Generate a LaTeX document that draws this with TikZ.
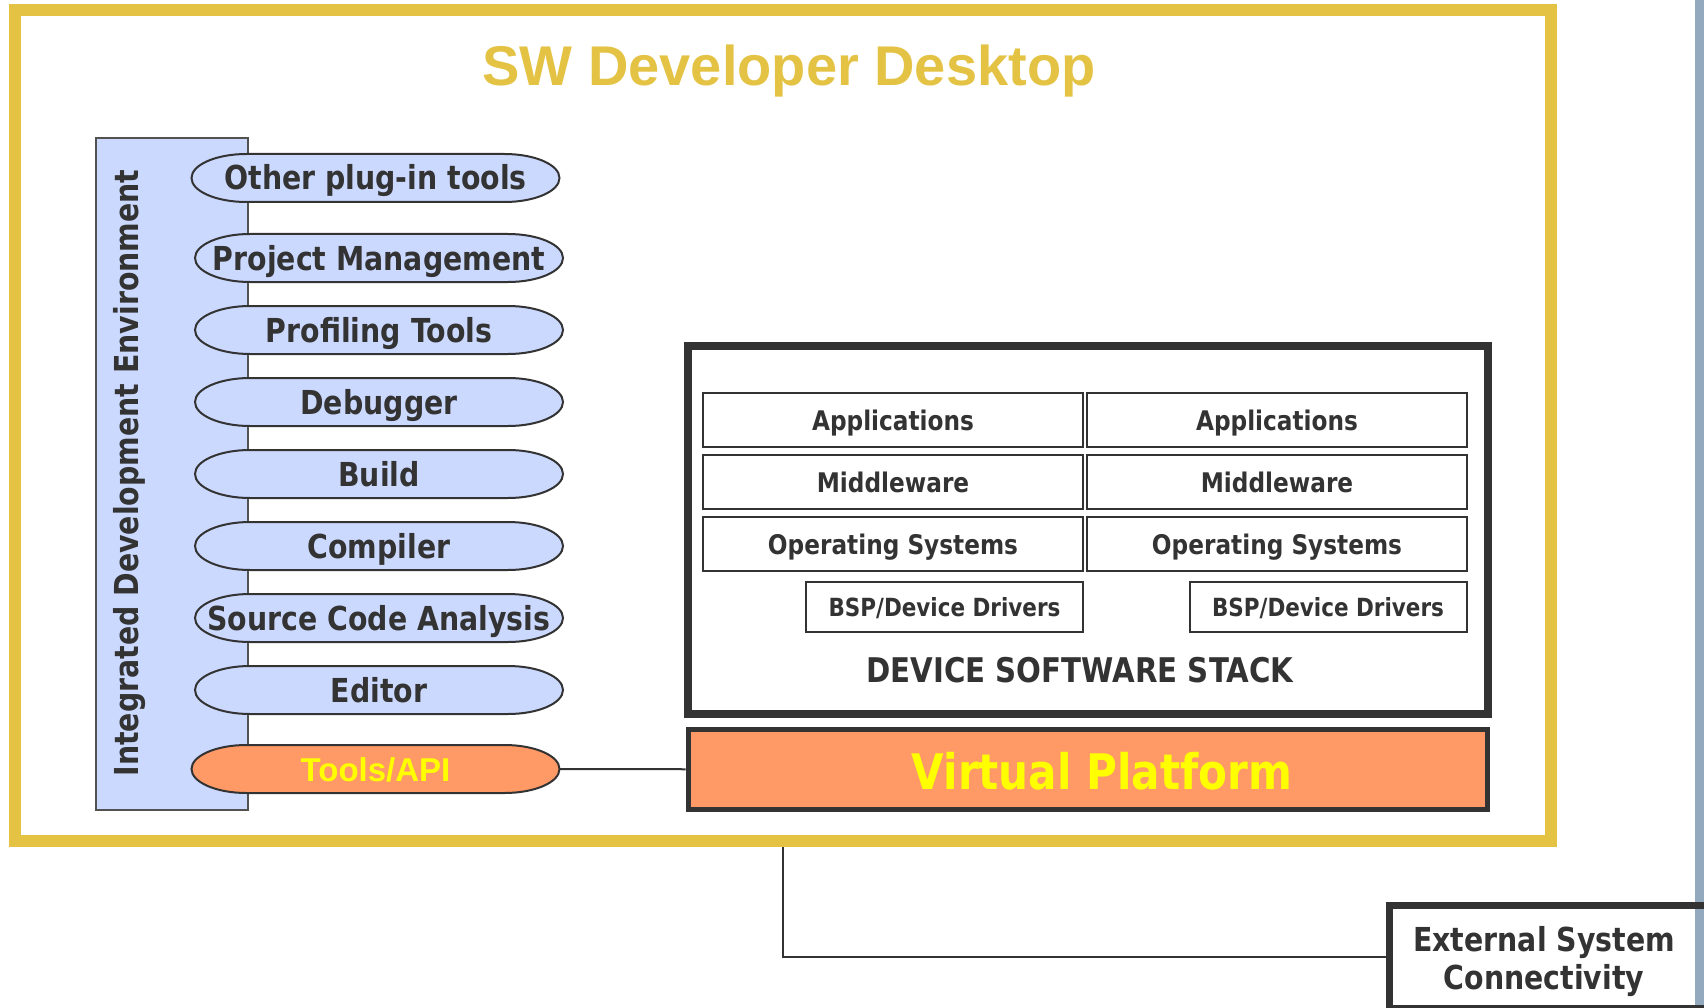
\documentclass[tikz,border=0pt]{standalone}
\usepackage{fontspec}
\newfontfamily\tah[FakeStretch=0.86]{DejaVu Sans}
\newfontfamily\lib{Liberation Sans}
\definecolor{gold}{HTML}{E4C344}
\definecolor{dark}{HTML}{333333}
\definecolor{lav}{HTML}{CCD9FF}
\definecolor{orng}{HTML}{FF9966}
\definecolor{ylw}{HTML}{FFFF00}
\definecolor{steel}{HTML}{93A9BE}
\pgfdeclarelayer{bg}
\pgfsetlayers{bg,main}
\newcommand\pillshape[2]{%
  \begin{pgfonlayer}{bg}
  \path[draw=dark,line width=2pt,fill=#2]
    ([xshift=55pt]#1.north west) -- ([xshift=-55pt]#1.north east)
    arc[start angle=90,end angle=-90,x radius=55pt,y radius=24pt]
    -- ([xshift=55pt]#1.south west)
    arc[start angle=270,end angle=90,x radius=55pt,y radius=24pt] -- cycle;
  \end{pgfonlayer}}
\tikzset{
  pill/.style={minimum width=368pt,minimum height=48pt,inner sep=0pt,outer sep=0pt,
    text height=28pt,text depth=4pt,
    text=dark,font=\tah\bfseries\fontsize{33}{36}\selectfont},
  cell/.style={draw=dark,line width=2pt,minimum width=380pt,minimum height=54pt,inner sep=0pt,
    text height=22pt,text depth=2pt,
    text=dark,font=\tah\bfseries\fontsize{27}{30}\selectfont},
  bspcell/.style={cell,minimum width=277pt,minimum height=50pt,text height=20pt,text depth=2pt,
    font=\tah\bfseries\fontsize{25}{28}\selectfont},
  conn/.style={draw=dark,line width=2pt}
}
\begin{document}
\begin{tikzpicture}[x=1pt,y=-1pt]
\useasboundingbox (0,0) rectangle (1704,1008);
\begin{pgfonlayer}{bg}
\fill[white] (0,0) rectangle (1704,1008);
\end{pgfonlayer}
\clip (0,0) rectangle (1704,1008);
% right steel bar
\fill[steel] (1695,0) rectangle (1704,1008);
% desktop frame
\node[draw=gold,line width=12pt,minimum width=1536pt,minimum height=831pt,inner sep=0pt] (desk) at (783,425.5) {};
\node[text=gold,font=\lib\bfseries\fontsize{56}{60}\selectfont] (title) at (789,71) {SW Developer Desktop};
% IDE bar
\begin{pgfonlayer}{bg}
\node[draw=dark!85,fill=lav,line width=2pt,minimum width=152pt,minimum height=672pt,inner sep=0pt] (ide) at (172,474) {};
\end{pgfonlayer}
\node[rotate=90,text=dark,font=\tah\bfseries\fontsize{33}{36}\selectfont] (idetext) at (129.5,473) {Integrated Development Environment};
% tools
\node[pill] (p1) at (375.5,178) {Other plug-in tools};
\node[pill] (p2) at (379,258) {Project Management};
\node[pill] (p3) at (379,330) {Profiling Tools};
\node[pill] (p4) at (379,402) {Debugger};
\node[pill] (p5) at (379,474) {Build};
\node[pill] (p6) at (379,546) {Compiler};
\node[pill] (p7) at (379,618) {Source Code Analysis};
\node[pill] (p8) at (379,690) {Editor};
\node[pill,text=ylw,font=\lib\bfseries\fontsize{33}{36}\selectfont] (api) at (375.5,769) {Tools/API};
\pillshape{p1}{lav}
\pillshape{p2}{lav}
\pillshape{p3}{lav}
\pillshape{p4}{lav}
\pillshape{p5}{lav}
\pillshape{p6}{lav}
\pillshape{p7}{lav}
\pillshape{p8}{lav}
\pillshape{api}{orng}
% device software stack
\node[draw=dark,line width=8pt,minimum width=800pt,minimum height=368pt,inner sep=0pt] (stack) at (1087.5,529.5) {};
\node[cell] (app1) at (893,420) {Applications};
\node[cell] (app2) at (1277,420) {Applications};
\node[cell] (mid1) at (893,482) {Middleware};
\node[cell] (mid2) at (1277,482) {Middleware};
\node[cell] (os1) at (893,544) {Operating Systems};
\node[cell] (os2) at (1277,544) {Operating Systems};
\node[bspcell] (bsp1) at (944.5,607) {BSP/Device Drivers};
\node[bspcell] (bsp2) at (1328,607) {BSP/Device Drivers};
\node[text=dark,font=\tah\bfseries\fontsize{34}{36}\selectfont] (stacklbl) at (1080,670) {DEVICE SOFTWARE STACK};
% virtual platform
\node[draw=dark,fill=orng,line width=5pt,minimum width=799pt,minimum height=79.5pt,inner sep=0pt] (vp) at (1087.5,769.25) {};
\node[text=ylw,font=\tah\bfseries\fontsize{49}{52}\selectfont] (vptext) at (1102,771) {Virtual Platform};
% external system
\node[draw=dark,line width=7pt,minimum width=331pt,minimum height=103pt,inner sep=0pt] (ext) at (1555,957) {};
\node[align=center,text=dark,font=\tah\bfseries\fontsize{33}{38}\selectfont] (exttext) at (1544,962) {External System\\Connectivity};
% connectors
\draw[conn] (api.east) -- (vp.west);
\draw[conn] (desk.south) |- (ext.west);
\end{tikzpicture}
\end{document}
